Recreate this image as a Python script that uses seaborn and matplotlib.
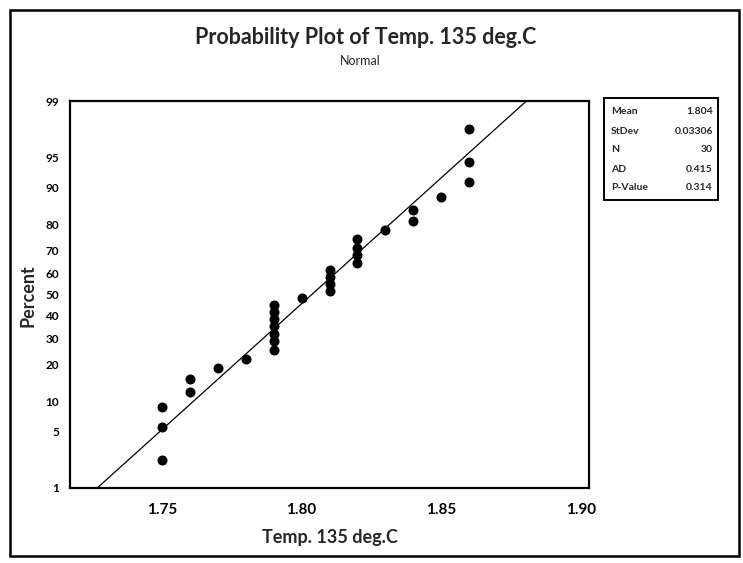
import numpy as np
import pandas as pd
import matplotlib
matplotlib.use("Agg")
import matplotlib.pyplot as plt
from matplotlib.patches import Rectangle
import seaborn as sns
from statistics import NormalDist

# ---- data ----
temp_values = [1.75, 1.76, 1.77, 1.78, 1.79, 1.80, 1.81, 1.82, 1.83, 1.84, 1.85, 1.86]
temp_counts = [3, 2, 1, 1, 7, 1, 4, 4, 1, 2, 1, 3]
y_ticks = [1, 5, 10, 20, 30, 40, 50, 60, 70, 80, 90, 95, 99]
x_ticks = [1.75, 1.80, 1.85, 1.90]
x_tick_labels = ["1.75", "1.80", "1.85", "1.90"]
stat_labels = ["Mean", "StDev", "N", "AD", "P-Value"]
stat_values = ["1.804", "0.03306", "30", "0.415", "0.314"]

title = "Probability Plot of Temp. 135 deg.C"
subtitle = "Normal"
x_label = "Temp. 135 deg.C"
y_label = "Percent"

# ---- derived ----
data = np.sort(np.repeat(temp_values, temp_counts))
n = len(data)
ranks = np.arange(1, n + 1)
percent = (ranks - 0.3) / (n + 0.4) * 100.0
mean = data.mean()
sd = data.std(ddof=1)
nd = NormalDist()

fit_p = np.linspace(1, 99, 200)
fit_x = mean + sd * np.array([nd.inv_cdf(p / 100.0) for p in fit_p])

pts = pd.DataFrame({"x": data, "p": percent})
fit = pd.DataFrame({"x": fit_x, "p": fit_p})

_ppf = np.vectorize(lambda v: nd.inv_cdf(v / 100.0), otypes=[float])
_cdf = np.vectorize(lambda v: nd.cdf(v) * 100.0, otypes=[float])

def fwd(p):
    p = np.clip(np.asarray(p, dtype=float), 1e-6, 100 - 1e-6)
    return _ppf(p)

def inv(z):
    return _cdf(np.asarray(z, dtype=float))

sns.set_style("white")
plt.rcParams["font.family"] = ["Lato", "DejaVu Sans"]

fig = plt.figure(figsize=(7.43, 5.63), dpi=100)
ax = fig.add_axes([70 / 743, 1 - 488 / 563, (589 - 70) / 743, (488 - 101) / 563])
ax.set_yscale("function", functions=(fwd, inv))

sns.lineplot(data=fit, x="x", y="p", ax=ax, color="black", linewidth=0.9,
             sort=False, estimator=None)
sns.scatterplot(data=pts, x="x", y="p", ax=ax, color="black", s=52,
                edgecolor="black", linewidth=0, zorder=3)

ax.set_xlim(1.717, 1.903)
ax.set_ylim(1, 99)
ax.set_yticks(y_ticks)
ax.set_yticklabels([str(t) for t in y_ticks])
ax.yaxis.set_minor_locator(matplotlib.ticker.NullLocator())
ax.set_xticks(x_ticks)
ax.set_xticklabels(x_tick_labels)
ax.tick_params(axis="both", direction="out", length=4, width=1.2, color="black",
               labelcolor="black")
ax.tick_params(axis="y", labelsize=8.5, pad=4)
ax.tick_params(axis="x", labelsize=11, pad=7)
for lab in ax.get_xticklabels() + ax.get_yticklabels():
    lab.set_fontweight("bold")
for s in ax.spines.values():
    s.set_color("black")
    s.set_linewidth(1.6)
ax.set_xlabel("")
ax.set_ylabel("")

fig.text(330 / 743, 1 - 537 / 563, x_label, ha="center", va="center",
         fontsize=13, fontweight="bold")
fig.text(28 / 743, 1 - 296 / 563, y_label, ha="center", va="center",
         rotation=90, fontsize=13, fontweight="bold")
fig.text(366 / 743, 1 - 38 / 563, title, ha="center", va="center",
         fontsize=15.5, fontweight="bold")
fig.text(360 / 743, 1 - 61 / 563, subtitle, ha="center", va="center",
         fontsize=9)

# outer frame
fig.add_artist(Rectangle((10 / 743, 1 - 556 / 563), (739 - 10) / 743, (556 - 10) / 563,
                         transform=fig.transFigure, fill=False, edgecolor="black",
                         linewidth=1.8))
# stats box
bx0, bx1, by0, by1 = 604, 718, 98, 200
fig.add_artist(Rectangle((bx0 / 743, 1 - by1 / 563), (bx1 - bx0) / 743, (by1 - by0) / 563,
                         transform=fig.transFigure, fill=False, edgecolor="black",
                         linewidth=1.4))
row_y = [112, 131, 150, 170, 188]
for lab, val, yy in zip(stat_labels, stat_values, row_y):
    fig.text(611 / 743, 1 - yy / 563, lab, ha="left", va="center", fontsize=7.5,
             fontweight="bold")
    fig.text(713 / 743, 1 - yy / 563, val, ha="right", va="center", fontsize=7.5,
             fontweight="bold")

fig.savefig("out.png", dpi=100)
